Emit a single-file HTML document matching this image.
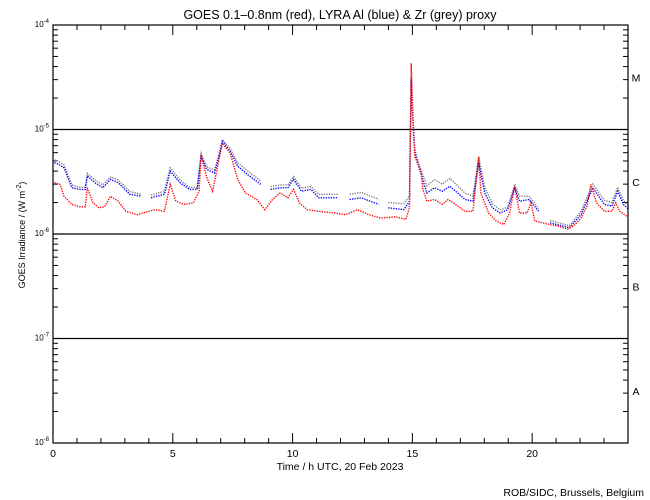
<!DOCTYPE html>
<html><head><meta charset="utf-8">
<style>
html,body{margin:0;padding:0;background:#fff;}
svg{display:block;font-family:"Liberation Sans",sans-serif;}
</style></head>
<body>
<svg id="chart" width="650" height="500" viewBox="0 0 650 500" xmlns="http://www.w3.org/2000/svg">
<text x="340" y="19" font-size="12.5" text-anchor="middle">GOES 0.1–0.8nm (red), LYRA Al (blue) &amp; Zr (grey) proxy</text>
<text x="340" y="470" font-size="10.5" text-anchor="middle">Time / h UTC, 20 Feb 2023</text>
<text transform="translate(25,235) rotate(-90)" font-size="9" text-anchor="middle">GOES Irradiance / (W m<tspan dy="-4" font-size="7">-2</tspan><tspan dy="4">)</tspan></text>
<text x="644" y="496" font-size="10.5" text-anchor="end">ROB/SIDC, Brussels, Belgium</text>
<g id="axes"></g>
<g id="series"></g>
<rect x="53" y="25" width="575" height="418" fill="none" stroke="#000" stroke-width="1.2"/>
</svg>
<script>
// data: hours and irradiance in units of 1e-6 W/m^2
const redHours = [0.06,0.3,0.46,0.79,1.11,1.35,1.43,1.67,1.91,2.15,2.4,2.72,3.04,3.52,4.0,4.25,4.65,4.89,5.13,5.46,5.86,6.1,6.18,6.42,6.66,6.9,7.07,7.39,7.71,8.03,8.51,8.84,9.16,9.48,9.8,10.04,10.29,10.61,11.09,11.74,12.22,12.7,13.19,13.67,14.31,14.72,14.88,14.95,15.0,15.04,15.1,15.36,15.44,15.6,15.92,16.25,16.49,16.89,17.2,17.53,17.77,17.86,18.18,18.5,18.82,19.06,19.27,19.47,19.79,19.95,20.11,20.43,20.75,21.08,21.48,21.72,22.04,22.29,22.45,22.69,23.01,23.33,23.49,23.65,23.98];
const redValues = [3.1,2.98,2.3,1.92,1.82,1.82,2.77,1.99,1.78,1.82,2.3,2.06,1.65,1.53,1.65,1.71,1.65,2.98,2.06,1.92,1.99,2.57,5.75,3.45,2.57,4.8,7.4,5.96,3.33,2.47,2.14,1.71,2.14,2.47,2.22,2.67,1.99,1.71,1.65,1.59,1.53,1.71,1.53,1.42,1.46,1.38,1.78,43,20,10,5.5,4.0,2.67,2.06,2.14,1.92,2.14,1.85,1.65,1.65,5.5,2.47,1.59,1.33,1.23,1.59,2.86,1.59,1.59,1.99,1.33,1.28,1.23,1.19,1.12,1.19,1.42,1.85,2.98,1.99,1.65,1.65,1.99,1.65,1.46];
const blueHours = [0.06,0.2,0.46,0.79,1.11,1.35,1.43,1.75,2.08,2.4,2.72,3.2,3.69,null,4.09,4.33,4.65,4.89,5.3,5.7,6.02,6.18,6.42,6.74,6.9,7.07,7.39,7.71,8.19,8.68,null,9.08,9.48,9.8,10.04,10.37,10.77,11.09,11.9,null,12.38,12.87,13.59,null,13.99,14.64,14.88,14.95,15.0,15.1,15.28,15.6,15.92,16.25,16.57,16.89,17.2,17.53,17.77,18.02,18.34,18.66,18.98,19.27,19.47,19.87,20.27,null,20.75,21.56,22.04,22.53,23.01,23.33,23.57,23.81,24.0];
const blueValues = [4.8,4.7,4.3,2.77,2.67,2.67,3.6,3.1,2.77,3.33,3.1,2.4,2.3,null,2.22,2.3,2.4,4.0,3.1,2.67,2.67,5.5,4.14,3.85,5.2,7.7,6.2,4.45,3.6,2.98,null,2.67,2.77,2.77,3.33,2.57,2.67,2.22,2.22,null,2.14,2.22,1.92,null,1.78,1.71,2.06,30,15,6,4.3,2.47,2.77,2.57,2.86,2.47,2.14,2.06,4.8,2.47,1.78,1.59,1.71,2.77,2.06,2.14,1.65,null,1.28,1.15,1.53,2.77,1.92,1.85,2.57,1.92,1.75];
const greyHours = blueHours;
const greyValues = [5.1,5.0,4.6,2.95,2.8,2.8,3.8,3.3,2.95,3.5,3.3,2.55,2.4,null,2.35,2.45,2.55,4.3,3.3,2.8,2.8,5.9,4.4,4.1,5.5,8.0,6.6,4.8,3.9,3.2,null,2.85,2.95,2.95,3.55,2.75,2.85,2.4,2.4,null,2.4,2.5,2.15,null,2.0,1.95,2.3,32,16,6.5,4.6,2.9,3.3,3.0,3.4,2.9,2.45,2.3,5.5,2.8,1.95,1.7,1.8,3.0,2.3,2.3,1.75,null,1.35,1.2,1.65,3.0,2.1,2.0,2.8,2.1,1.9];
const yTickExps = [-4,-5,-6,-7,-8];
const xTickLabels = [0,5,10,15,20];
const classLabels = ["M","C","B","A"];

const NS = "http://www.w3.org/2000/svg";
const X0 = 53, X1 = 628, Y0 = 25, Y1 = 443;
function xScale(h){ return X0 + h*(X1-X0)/24; }
function yScale(v){ return Y1 - (Math.log10(v*1e-6)+8)*(Y1-Y0)/4; }
function mk(tag, attrs, parent){ const e=document.createElementNS(NS,tag); for(const k in attrs) e.setAttribute(k,attrs[k]); parent.appendChild(e); return e; }
const axes = document.getElementById('axes');
const series = document.getElementById('series');

// y axis ticks and decade lines
yTickExps.forEach(ex => {
  const y = yScale(Math.pow(10, ex+6));
  if (ex<-4 && ex>-8) {
    const l = mk('line',{x1:X0,x2:X1,y1:y,y2:y,stroke:'#000','stroke-width':1.2},axes);
    
    
  }
  const t = mk('text',{x:X0-4,y:y+2,'font-size':8,'text-anchor':'end'},axes);
  
  
  t.textContent='10';
  const s = mk('tspan',{dy:-4,'font-size':6},t); s.textContent=String(ex);
  if (ex>-8) {
    for (let m=2;m<=9;m++){
      const yy = yScale(m*Math.pow(10,ex-1+6));
      const a = mk('line',{x1:X0,x2:X0+5,y1:yy,y2:yy,stroke:'#000'},axes);
      
      
      const b = mk('line',{x1:X1-5,x2:X1,y1:yy,y2:yy,stroke:'#000'},axes);
      
      
    }
  }
});
// class labels
classLabels.forEach((c,i) => {
  const y = (yScale(Math.pow(10,2-i)) + yScale(Math.pow(10,1-i)))/2;
  const t = mk('text',{x:636,y:y+4,'font-size':10.5,'text-anchor':'middle'},axes);
  
  
  t.textContent=c;
});
// x ticks
for (let h=0; h<=24; h++){
  const x = xScale(h), len = (h%5===0)?10:5;
  const a = mk('line',{x1:x,x2:x,y1:Y1,y2:Y1-len,stroke:'#000'},axes);
  
  
  const b = mk('line',{x1:x,x2:x,y1:Y0,y2:Y0+len,stroke:'#000'},axes);
  
  
}
xTickLabels.forEach(v => {
  const t = mk('text',{x:xScale(v),y:457,'font-size':10.5,'text-anchor':'middle'},axes);
  
  
  t.textContent=String(v);
});
function drawSeries(hours, vals, color, name){
  let d='', pen=false;
  for (let i=0;i<hours.length;i++){
    if (hours[i]===null || vals[i]===null){ pen=false; continue; }
    d += (pen?'L':'M') + xScale(hours[i]).toFixed(1) + ' ' + yScale(vals[i]).toFixed(1) + ' ';
    pen=true;
  }
  const p = mk('path',{d:d,fill:'none',stroke:color,'stroke-width':1.4,'stroke-dasharray':'1.3 1.2'},series);
  
  
}
drawSeries(greyHours, greyValues, '#808080', 'lyra-zr-series');
drawSeries(blueHours, blueValues, '#0000ff', 'lyra-al-series');
drawSeries(redHours, redValues, '#ff0000', 'goes-series');
</script>
</body></html>
